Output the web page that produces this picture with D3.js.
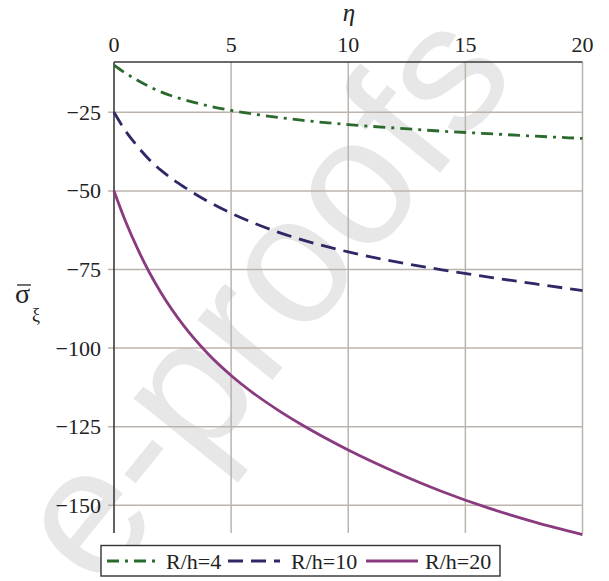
<!DOCTYPE html>
<html><head><meta charset="utf-8">
<script src="https://cdn.jsdelivr.net/npm/d3@7"></script>
<style>
html,body{margin:0;padding:0;background:#fff;}
svg{display:block;}
</style></head>
<body><svg id="c" width="609" height="581"></svg>
<script>
const eta = [0,0.5,1,1.5,2,3,4,5,6,7,8,10,12,14,16,18,20];
const seriesNames = ["R/h=4","R/h=10","R/h=20"];
const rh4  = [-10,-12.6,-14.8,-16.8,-18.5,-21.0,-22.9,-24.4,-25.6,-26.6,-27.5,-28.9,-30.0,-31.0,-31.8,-32.6,-33.3];
const rh10 = [-25,-31,-35.8,-40,-43.4,-48.8,-53.3,-57.1,-60.3,-63.1,-65.5,-69.4,-72.5,-75.1,-77.4,-79.6,-81.7];
const rh20 = [-50,-59.8,-68.3,-75.8,-82.3,-93.1,-101.7,-108.7,-114.6,-119.7,-124.3,-132.4,-139.4,-145.6,-150.9,-155.4,-159.3];
const xTicks = [0,5,10,15,20];
const yTicks = [-25,-50,-75,-100,-125,-150];

const colors = ["#2b6a2d","#2e2966","#8a3a7f"];
const dashes = ["12,6,3,6","15,8",null];
const SERIF = "'Liberation Serif','Times New Roman',Times,serif";

const svg = d3.select("#c");
const x = d3.scaleLinear().domain([0,20]).range([114,582.5]);
const y = d3.scaleLinear().domain([-158.8,-9.0]).range([533,62]);

// watermark
svg.append("text")
  .attr("transform","translate(260,295) rotate(-51)")
  .attr("text-anchor","middle").attr("dominant-baseline","central")
  .attr("font-family","'Liberation Sans',Arial,sans-serif")
  .attr("font-size",182).attr("fill","#e7e7e7")
  .text("e-proofs");

const gridColor = "#bdb3ad";
svg.append("g").selectAll("line").data(yTicks).join("line")
  .attr("x1",108).attr("x2",x(20)).attr("y1",d=>y(d)).attr("y2",d=>y(d))
  .attr("stroke",gridColor).attr("stroke-width",1.5);
svg.append("g").selectAll("line").data(xTicks.slice(1)).join("line")
  .attr("x1",d=>x(d)).attr("x2",d=>x(d)).attr("y1",y.range()[1]).attr("y2",y.range()[0])
  .attr("stroke",gridColor).attr("stroke-width",1.5);

svg.append("line").attr("x1",x(0)).attr("x2",x(0)).attr("y1",62).attr("y2",533)
  .attr("stroke","#3a3a3a").attr("stroke-width",1.6);
svg.append("line").attr("x1",x(0)).attr("x2",x(20)).attr("y1",62).attr("y2",62)
  .attr("stroke","#3a3a3a").attr("stroke-width",1.6);

svg.append("g").selectAll("text").data(xTicks).join("text")
  .attr("x",d=>x(d)).attr("y",52).attr("text-anchor","middle")
  .attr("font-family",SERIF).attr("font-size",22).attr("fill","#222").text(d=>d);
svg.append("g").selectAll("text").data(yTicks).join("text")
  .attr("x",101).attr("y",d=>y(d)+7.5).attr("text-anchor","end")
  .attr("font-family",SERIF).attr("font-size",22).attr("fill","#222").text(d=>"\u2212"+Math.abs(d));

svg.append("text").attr("x",349).attr("y",21).attr("text-anchor","middle")
  .attr("font-family",SERIF).attr("font-size",25).attr("font-style","italic").attr("fill","#222").text("η");
svg.append("text").attr("x",15).attr("y",303).attr("font-family",SERIF).attr("font-size",28).attr("fill","#222").text("σ");
svg.append("line").attr("x1",17).attr("x2",31).attr("y1",285).attr("y2",285)
  .attr("stroke","#222").attr("stroke-width",1.3);
svg.append("text").attr("x",32).attr("y",321).attr("font-family",SERIF).attr("font-size",18).attr("fill","#222").text("ξ");

const data = [rh4,rh10,rh20];
const line = d3.line().x((d,i)=>x(eta[i])).y(d=>y(d)).curve(d3.curveMonotoneX);
data.forEach((s,k)=>{
  svg.append("path").datum(s).attr("d",line).attr("fill","none")
    .attr("stroke",colors[k]).attr("stroke-width",2.8)
    .attr("stroke-dasharray",dashes[k]);
});

svg.append("rect").attr("x",101).attr("y",545.5).attr("width",399).attr("height",30.5)
  .attr("fill","#fff").attr("stroke","#333").attr("stroke-width",1.4);
const legX = [[107,155,166],[228,280,291],[366,418,425]];
seriesNames.forEach((n,k)=>{
  svg.append("line").attr("x1",legX[k][0]).attr("x2",legX[k][1]).attr("y1",561).attr("y2",561)
    .attr("stroke",colors[k]).attr("stroke-width",2.8).attr("stroke-dasharray",dashes[k]);
  svg.append("text").attr("x",legX[k][2]).attr("y",568.5).attr("font-family",SERIF)
    .attr("font-size",22).attr("fill","#222").text(n);
});
</script></body></html>
